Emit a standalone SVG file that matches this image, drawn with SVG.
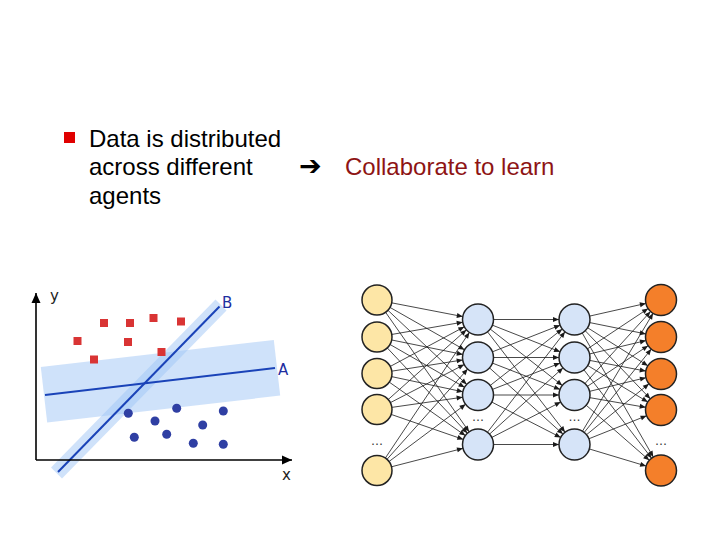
<svg xmlns="http://www.w3.org/2000/svg" width="720" height="540" viewBox="0 0 720 540">
<style>
.txt{font-family:"Liberation Sans",Arial,sans-serif;font-size:24px;fill:#000}
.red{fill:#8e1414}
.lbl{font-family:"DejaVu Sans",sans-serif;font-size:15px}
.c{stroke:#1a1a1a;stroke-width:0.8;fill:none;marker-end:url(#ah)}
.in{fill:#fde6a6;stroke:#222;stroke-width:1.5}
.hid{fill:#d6e4f8;stroke:#222;stroke-width:1.5}
.out{fill:#f47f2a;stroke:#222;stroke-width:1.5}
.dots{font-family:"DejaVu Sans",sans-serif;font-size:12px;fill:#333;text-anchor:middle}
.sq{fill:#d93434}
.dt{fill:#2f3fa3}
.band{fill:#9fc5f5;opacity:0.5}
</style>
<defs>
<marker id="ah" markerUnits="userSpaceOnUse" orient="auto" refX="15.5" refY="0" markerWidth="10" markerHeight="10" overflow="visible">
<path d="M-6,-2.5 L0,0 L-6,2.5 z" fill="#1a1a1a"/>
</marker>
<marker id="ax" markerUnits="userSpaceOnUse" orient="auto" refX="0" refY="0" markerWidth="12" markerHeight="12" overflow="visible">
<path d="M-10,-4.5 L0,0 L-10,4.5 z" fill="#000"/>
</marker>
</defs>
<rect width="720" height="540" fill="#fff"/>

<g id="bullet">
<rect x="64" y="132" width="11" height="11" fill="#e00000"/>
<text class="txt" x="89" y="147">Data is distributed</text>
<text class="txt" x="89" y="175">across different</text>
<text class="txt" x="89" y="204">agents</text>
</g>
<g id="conclusion">
<text x="299" y="175" font-family="DejaVu Sans,sans-serif" font-size="27" font-weight="bold" fill="#000">➔</text>
<text class="txt red" x="345" y="175">Collaborate to learn</text>
</g>

<g id="chart">
<polygon class="band" points="40.8,366.9 273.8,340 280.2,395.6 47.2,422.5"/>
<polygon class="band" points="51,467.5 215.5,299.5 226.5,310.5 62,478.5"/>
<line x1="45" y1="395" x2="275" y2="368" stroke="#1a43b8" stroke-width="2"/>
<line x1="58" y1="472" x2="219.5" y2="306.5" stroke="#1a43b8" stroke-width="2"/>
<line x1="36" y1="460" x2="36" y2="293" stroke="#000" stroke-width="1.6" marker-end="url(#ax)"/>
<line x1="36" y1="460" x2="292" y2="460" stroke="#000" stroke-width="1.6" marker-end="url(#ax)"/>
<text class="lbl" x="50" y="301" fill="#222">y</text>
<text class="lbl" x="282" y="480" fill="#222">x</text>
<text class="lbl" x="222" y="308" fill="#1e2ea0" font-size="13">B</text>
<text class="lbl" x="278" y="375" fill="#1e2ea0" font-size="13">A</text>
<rect class="sq" x="100" y="319" width="8" height="8"/>
<rect class="sq" x="126" y="319" width="8" height="8"/>
<rect class="sq" x="149.5" y="314" width="8" height="8"/>
<rect class="sq" x="177" y="317.5" width="8" height="8"/>
<rect class="sq" x="73.5" y="337" width="8" height="8"/>
<rect class="sq" x="124" y="338" width="8" height="8"/>
<rect class="sq" x="90" y="355.5" width="8" height="8"/>
<rect class="sq" x="157.5" y="348" width="8" height="8"/>
<circle class="dt" cx="128.3" cy="413.3" r="4.5"/>
<circle class="dt" cx="176.7" cy="408.3" r="4.5"/>
<circle class="dt" cx="155" cy="421" r="4.5"/>
<circle class="dt" cx="202.7" cy="425" r="4.5"/>
<circle class="dt" cx="223.3" cy="411" r="4.5"/>
<circle class="dt" cx="134.3" cy="437.3" r="4.5"/>
<circle class="dt" cx="166.7" cy="434.3" r="4.5"/>
<circle class="dt" cx="193.3" cy="443.3" r="4.5"/>
<circle class="dt" cx="223.3" cy="444.3" r="4.5"/>
</g>

<g id="connectors">
<line class="c" x1="377" y1="300" x2="478" y2="319.5"/>
<line class="c" x1="377" y1="300" x2="478" y2="357.5"/>
<line class="c" x1="377" y1="300" x2="478" y2="395"/>
<line class="c" x1="377" y1="300" x2="478" y2="444.5"/>
<line class="c" x1="377" y1="337" x2="478" y2="319.5"/>
<line class="c" x1="377" y1="337" x2="478" y2="357.5"/>
<line class="c" x1="377" y1="337" x2="478" y2="395"/>
<line class="c" x1="377" y1="337" x2="478" y2="444.5"/>
<line class="c" x1="377" y1="373.5" x2="478" y2="319.5"/>
<line class="c" x1="377" y1="373.5" x2="478" y2="357.5"/>
<line class="c" x1="377" y1="373.5" x2="478" y2="395"/>
<line class="c" x1="377" y1="373.5" x2="478" y2="444.5"/>
<line class="c" x1="377" y1="409.5" x2="478" y2="319.5"/>
<line class="c" x1="377" y1="409.5" x2="478" y2="357.5"/>
<line class="c" x1="377" y1="409.5" x2="478" y2="395"/>
<line class="c" x1="377" y1="409.5" x2="478" y2="444.5"/>
<line class="c" x1="377" y1="470.5" x2="478" y2="319.5"/>
<line class="c" x1="377" y1="470.5" x2="478" y2="357.5"/>
<line class="c" x1="377" y1="470.5" x2="478" y2="395"/>
<line class="c" x1="377" y1="470.5" x2="478" y2="444.5"/>

<line class="c" x1="478" y1="319.5" x2="574.5" y2="319.5"/>
<line class="c" x1="478" y1="319.5" x2="574.5" y2="357.5"/>
<line class="c" x1="478" y1="319.5" x2="574.5" y2="395"/>
<line class="c" x1="478" y1="319.5" x2="574.5" y2="444.5"/>
<line class="c" x1="478" y1="357.5" x2="574.5" y2="319.5"/>
<line class="c" x1="478" y1="357.5" x2="574.5" y2="357.5"/>
<line class="c" x1="478" y1="357.5" x2="574.5" y2="395"/>
<line class="c" x1="478" y1="357.5" x2="574.5" y2="444.5"/>
<line class="c" x1="478" y1="395" x2="574.5" y2="319.5"/>
<line class="c" x1="478" y1="395" x2="574.5" y2="357.5"/>
<line class="c" x1="478" y1="395" x2="574.5" y2="395"/>
<line class="c" x1="478" y1="395" x2="574.5" y2="444.5"/>
<line class="c" x1="478" y1="444.5" x2="574.5" y2="319.5"/>
<line class="c" x1="478" y1="444.5" x2="574.5" y2="357.5"/>
<line class="c" x1="478" y1="444.5" x2="574.5" y2="395"/>
<line class="c" x1="478" y1="444.5" x2="574.5" y2="444.5"/>

<line class="c" x1="574.5" y1="319.5" x2="661" y2="300"/>
<line class="c" x1="574.5" y1="319.5" x2="661" y2="337"/>
<line class="c" x1="574.5" y1="319.5" x2="661" y2="374"/>
<line class="c" x1="574.5" y1="319.5" x2="661" y2="410"/>
<line class="c" x1="574.5" y1="319.5" x2="661" y2="470.5"/>
<line class="c" x1="574.5" y1="357.5" x2="661" y2="300"/>
<line class="c" x1="574.5" y1="357.5" x2="661" y2="337"/>
<line class="c" x1="574.5" y1="357.5" x2="661" y2="374"/>
<line class="c" x1="574.5" y1="357.5" x2="661" y2="410"/>
<line class="c" x1="574.5" y1="357.5" x2="661" y2="470.5"/>
<line class="c" x1="574.5" y1="395" x2="661" y2="300"/>
<line class="c" x1="574.5" y1="395" x2="661" y2="337"/>
<line class="c" x1="574.5" y1="395" x2="661" y2="374"/>
<line class="c" x1="574.5" y1="395" x2="661" y2="410"/>
<line class="c" x1="574.5" y1="395" x2="661" y2="470.5"/>
<line class="c" x1="574.5" y1="444.5" x2="661" y2="300"/>
<line class="c" x1="574.5" y1="444.5" x2="661" y2="337"/>
<line class="c" x1="574.5" y1="444.5" x2="661" y2="374"/>
<line class="c" x1="574.5" y1="444.5" x2="661" y2="410"/>
<line class="c" x1="574.5" y1="444.5" x2="661" y2="470.5"/>
</g>

<g id="in1"><circle class="in" cx="377" cy="300" r="15"/></g>
<g id="in2"><circle class="in" cx="377" cy="337" r="15"/></g>
<g id="in3"><circle class="in" cx="377" cy="373.5" r="15"/></g>
<g id="in4"><circle class="in" cx="377" cy="409.5" r="15"/></g>
<g id="in5"><circle class="in" cx="377" cy="470.5" r="15"/></g>
<g id="h1a"><circle class="hid" cx="478" cy="319.5" r="15.5"/></g>
<g id="h1b"><circle class="hid" cx="478" cy="357.5" r="15.5"/></g>
<g id="h1c"><circle class="hid" cx="478" cy="395" r="15.5"/></g>
<g id="h1d"><circle class="hid" cx="478" cy="444.5" r="15.5"/></g>
<g id="h2a"><circle class="hid" cx="574.5" cy="319.5" r="15.5"/></g>
<g id="h2b"><circle class="hid" cx="574.5" cy="357.5" r="15.5"/></g>
<g id="h2c"><circle class="hid" cx="574.5" cy="395" r="15.5"/></g>
<g id="h2d"><circle class="hid" cx="574.5" cy="444.5" r="15.5"/></g>
<g id="out1"><circle class="out" cx="661" cy="300" r="15.5"/></g>
<g id="out2"><circle class="out" cx="661" cy="337" r="15.5"/></g>
<g id="out3"><circle class="out" cx="661" cy="374" r="15.5"/></g>
<g id="out4"><circle class="out" cx="661" cy="410" r="15.5"/></g>
<g id="out5"><circle class="out" cx="661" cy="470.5" r="15.5"/></g>
<g id="ellipses">
<text class="dots" x="377" y="445">…</text>
<text class="dots" x="478" y="421">…</text>
<text class="dots" x="574.5" y="421">…</text>
<text class="dots" x="661" y="445">…</text>
</g>
</svg>
